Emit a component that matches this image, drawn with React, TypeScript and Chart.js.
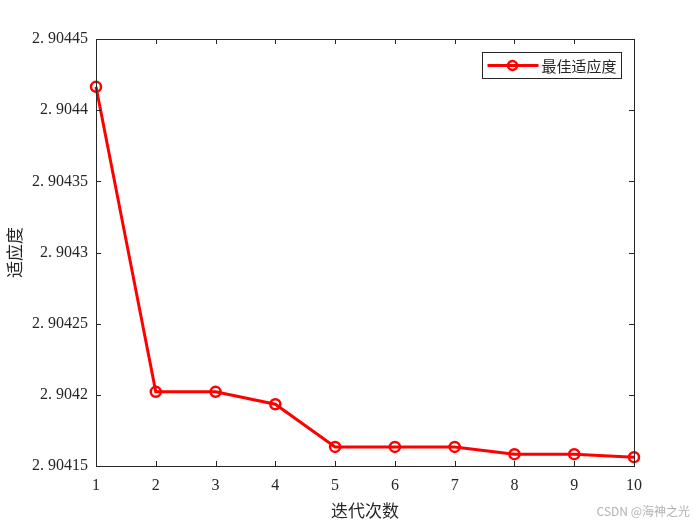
import React, { useEffect, useRef } from "react";
import { Chart, registerables } from "chart.js";

Chart.register(...registerables);

const iterations = [1, 2, 3, 4, 5, 6, 7, 8, 9, 10];
const bestFitness = [
  2.9044164, 2.9042021, 2.9042021, 2.9041934, 2.9041634, 2.9041634, 2.9041634,
  2.9041583, 2.9041583, 2.9041562,
];
const seriesLabel = "最佳适应度";
const xTitle = "迭代次数";
const yTitle = "适应度";
const watermark = "CSDN @海神之光";

const axisColor = "#262626";
const serif = "'Liberation Serif', 'Noto Sans CJK SC', serif";

// MATLAB style box with inward ticks on all four sides
const boxPlugin = {
  id: "box",
  afterDraw(chart: any) {
    const { ctx, chartArea, scales } = chart;
    const { left, right, top, bottom } = chartArea;
    ctx.save();
    ctx.strokeStyle = axisColor;
    ctx.lineWidth = 1;
    ctx.strokeRect(Math.round(left) + 0.5, Math.round(top) + 0.5, Math.round(right - left), Math.round(bottom - top));
    ctx.beginPath();
    scales.x.ticks.forEach((t: any) => {
      const px = Math.round(scales.x.getPixelForValue(t.value)) + 0.5;
      ctx.moveTo(px, bottom);
      ctx.lineTo(px, bottom - 5);
      ctx.moveTo(px, top);
      ctx.lineTo(px, top + 5);
    });
    scales.y.ticks.forEach((t: any) => {
      const py = Math.round(scales.y.getPixelForValue(t.value)) + 0.5;
      ctx.moveTo(left, py);
      ctx.lineTo(left + 5, py);
      ctx.moveTo(right, py);
      ctx.lineTo(right - 5, py);
    });
    ctx.stroke();

    // legend
    const ds = chart.data.datasets[0];
    const w = 139;
    const h = 26;
    const bx = Math.round(right - 13 - w) + 0.5;
    const by = Math.round(top + 13) + 0.5;
    ctx.fillStyle = "#ffffff";
    ctx.fillRect(bx, by, w, h);
    ctx.strokeStyle = axisColor;
    ctx.strokeRect(bx, by, w, h);
    const ly = by + h / 2;
    ctx.strokeStyle = ds.borderColor;
    ctx.lineWidth = 3;
    ctx.beginPath();
    ctx.moveTo(bx + 5, ly);
    ctx.lineTo(bx + 56, ly);
    ctx.stroke();
    ctx.lineWidth = 2.5;
    ctx.beginPath();
    ctx.arc(bx + 30, ly, 4.5, 0, Math.PI * 2);
    ctx.stroke();
    ctx.fillStyle = axisColor;
    ctx.font = "15px 'Noto Sans CJK SC', sans-serif";
    ctx.textBaseline = "middle";
    ctx.textAlign = "left";
    ctx.fillText(ds.label, bx + 59, ly + 1);

    // watermark
    ctx.fillStyle = "rgba(170,170,170,0.9)";
    ctx.font = "12px 'Noto Sans CJK SC', sans-serif";
    ctx.textAlign = "right";
    ctx.fillText(watermark, 690, 511);
    ctx.restore();
  },
};

const App: React.FC = () => {
  const chartRef = useRef<HTMLCanvasElement | null>(null);
  const chartInstance = useRef<Chart | null>(null);

  useEffect(() => {
    if (!chartRef.current) return;
    const ctx = chartRef.current.getContext("2d");
    if (!ctx) return;
    if (chartInstance.current) chartInstance.current.destroy();

    chartInstance.current = new Chart(ctx, {
      type: "line",
      data: {
        datasets: [
          {
            label: seriesLabel,
            data: iterations.map((x, i) => ({ x, y: bestFitness[i] })),
            borderColor: "#ff0000",
            backgroundColor: "transparent",
            borderWidth: 3,
            pointStyle: "circle",
            pointRadius: 5,
            pointBorderWidth: 2.5,
            pointBorderColor: "#ff0000",
            pointBackgroundColor: "transparent",
            tension: 0,
            clip: false as any,
          },
        ],
      },
      options: {
        animation: false,
        responsive: true,
        maintainAspectRatio: false,
        layout: { padding: { top: 39, right: 66, left: 0, bottom: 0 } },
        plugins: {
          legend: { display: false },
          tooltip: { enabled: false },
        },
        scales: {
          x: {
            type: "linear",
            min: 1,
            max: 10,
            grid: { display: false, drawTicks: false },
            border: { display: false },
            ticks: {
              stepSize: 1,
              color: axisColor,
              padding: 10,
              font: { family: serif, size: 16 },
            },
            title: {
              display: true,
              text: xTitle,
              color: axisColor,
              padding: { top: 0, bottom: 4 },
              font: { family: "'Noto Sans CJK SC', serif", size: 17 },
            },
            afterFit: (scale: any) => {
              scale.height = 59;
            },
          },
          y: {
            type: "linear",
            min: 2.90415,
            max: 2.90445,
            grid: { display: false, drawTicks: false },
            border: { display: false },
            ticks: {
              stepSize: 0.00005,
              color: axisColor,
              padding: 8,
              font: { family: serif, size: 16 },
              callback: (v: any) =>
                parseFloat(Number(v).toFixed(5)).toString().replace(".", ". "),
            },
            title: {
              display: true,
              text: yTitle,
              color: axisColor,
              padding: { top: 4, bottom: 0 },
              font: { family: "'Noto Sans CJK SC', serif", size: 17 },
            },
            afterFit: (scale: any) => {
              scale.width = 96;
            },
          },
        },
      },
      plugins: [boxPlugin],
    });

    return () => {
      if (chartInstance.current) {
        chartInstance.current.destroy();
        chartInstance.current = null;
      }
    };
  }, []);

  return (
    <div style={{ position: "absolute", left: 0, top: 0, width: 700, height: 525, background: "#fff" }}>
      <canvas ref={chartRef}></canvas>
    </div>
  );
};

export default App;
